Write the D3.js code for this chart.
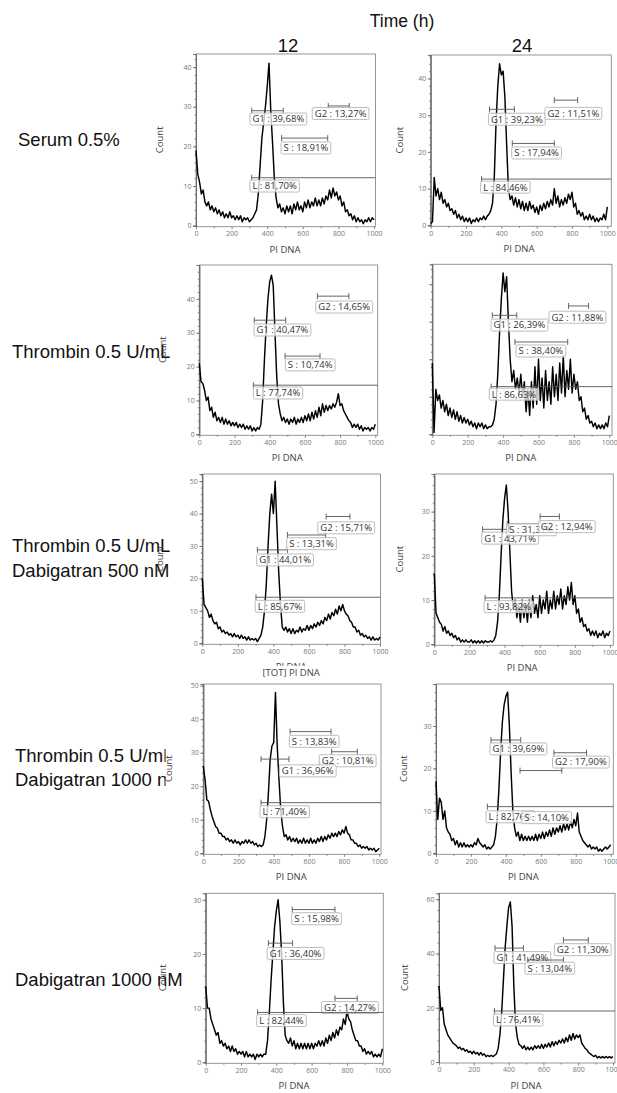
<!DOCTYPE html>
<html>
<head>
<meta charset="utf-8">
<script src="https://cdn.jsdelivr.net/npm/d3@7/dist/d3.min.js"></script>
<style>
  body { margin: 0; background: #fff; }
  .big { font-family: "Liberation Sans", Arial, sans-serif; fill: #111; }
  .small { font-family: "Open Sans", sans-serif; }
  .axis text { font-family: "Open Sans", sans-serif; font-size: 7px; fill: #777; }
  .axis path, .axis line { stroke: #666; stroke-width: 0.8; }
</style>
</head>
<body>
<div id="chart"></div>
<script>
// histogram bins: x = 0, 10, 20 ... 1000 (PI DNA channel)
var binStep = 10;

var timeLabels = ["12", "24"];
var rowLabels = [
  ["Serum 0.5%"],
  ["Thrombin 0.5 U/mL"],
  ["Thrombin 0.5 U/mL", "Dabigatran 500 nM"],
  ["Thrombin 0.5 U/mL", "Dabigatran 1000 nM"],
  ["Dabigatran 1000 nM"]
];
var xTicks = [0, 200, 400, 600, 800, 1000];
var xMinorTicks = [100, 300, 500, 700, 900];

// counts
var countSerum12 = [19,13,11,8,9,6,5,6,4,5,
  3.5,4.5,3,4,2.5,3.5,2,3,2,3.5,
  2,2.5,1.5,2.5,1.5,2.5,1,2,1.5,2,
  1,1.5,2,3,4,8,15,22,26,30,
  35,41,29,21,12,7,4.5,5.5,3.5,4.5,
  3,5,3.5,5,3,5.5,4,6,4,5,
  3.5,6,4.5,6.5,4.5,6,5,7,5,6.5,
  5,7,5.5,7.5,6.5,9,7,9.5,7.5,8.5,
  6.5,7.5,5,6,3.5,4,2.5,3,1.5,2.5,
  1,2,1,1.5,0.5,1.5,1,2,1,2,
  1.5];
var countSerum24 = [0.5,1,13,8,10,7,9,6,7,5,
  6,4,4.5,3,4,2,3,1.5,2.5,1,
  2,1,2,0.5,1.5,1,2,1,2,1.5,
  2.5,1.5,2.5,3,4,6,13,28,38,44,
  41,42,35,22,10,7,8,5.5,7.5,5,
  7,4.5,6.5,4,6,4,6.5,4.5,5.5,3.5,
  5,3,5.5,4,6,4.5,6.5,5,7,5.5,
  10,6,8,5,7,5.5,7.5,6,8.5,7,
  9,5,6,3,4,2.5,3.5,1.5,2.5,1.5,
  3,1.5,2.5,1,2,1,2,1.5,3,1.5,
  5];
var countThr12 = [21,15.5,15,13,10,11,7,8,5,6.5,
  4,5,3.5,5,3,4.5,3,4,2.5,3.5,
  2.5,3.5,2,3,2,3,1.5,2.5,1.5,2.5,
  1,2,1,2,1.5,3,10,22,32,40,
  45,47,44,30,17,9,6,4,5,3.5,
  4.5,3,4.5,3.5,5,3,4.5,3.5,5,3.5,
  5.5,4,6,4,6.5,4.5,7,5,8,5.5,
  9,6.5,8.5,7,8.5,7.5,9,8,9.5,12,
  8.5,9,7,6,5,4,3.5,2,3,2,
  3,1.5,2.5,1,2,1.5,2,1,2,1.5,
  3];
var countThr24 = [19,0.5,12,9,10.5,7,9,6,8,5,
  7,4.5,6.5,4,6,3.5,5,3,4.5,3,
  4,2.5,3.5,2,3,1.5,3,2,3,1.5,
  2.5,1.5,2,2,2.5,4,8,16,27,36,
  43,38,42,30,20,14,17,12,15,11,
  16,10,14,6,12,5,14,7,18,8,
  20,9,15,7,17,9,14,8,18,10,
  16,9,19,11,21,10,17,12,20,11,
  16,12,14,9,10,6,7,4,5,3,
  3.5,2,3,1.5,2.5,1.5,2.5,1.5,3,2,
  5];
var countThrDab500_12 = [20,12,11,10,8,9,7,6,6.5,4.5,
  5,3.5,4,3,3.5,2.5,3,2,3,2,
  2.5,1.5,2.5,1.5,2,1,2,1,1.5,1,
  1.5,0.5,1.5,2.5,5,10,18,30,40,46,
  40,50,36,22,12,5,4,5,3.5,4.5,
  3,4.5,3,4,3.5,5,3.5,4.5,4,5.5,
  4,5.5,4.5,6,5,6.5,5.5,7,6,8,
  7,9,7.5,9.5,8.5,10.5,9,11.5,10,12,
  10,9,8.5,7,6.5,5,5,3.5,4,2.5,
  3,2,2.5,1.5,2,1,2,1,1.5,1,
  2];
var countThrDab500_24 = [16,7,6,5,4.5,3,4,2.5,3,2,
  2.5,1.5,2,1,1.5,0.5,1,0.5,1,0.5,
  0.5,1,0.3,0.8,0.3,0.8,0.3,0.8,0.3,0.8,
  0.5,0.5,0.8,0.5,1,2,5,11,20,28,
  33,36,30,21,12,8,10,6,9,5,
  10,6,9,5,10,6,11,7,9,6,
  11,7,10,8,12,7,10,8,12,8,
  11,9,12.5,8,11,9,13,10,14,9,
  11,7,8,5,6,4,4.5,3,3.5,2,
  3,2,3,1.5,2.5,2,3,1.5,2.5,2,
  3];
var countThrDab1000_12 = [26,22,16,15.5,13,11,9.5,8,7.5,6,
  6,5,5,4,4.5,3.5,4,3,4,3,
  3.5,2.5,3.5,3,4,3,4,3,3.5,2.5,
  3,2,2.5,2,2.5,5,10,18,28,32,
  33,48,32,22,13,8,5,5.5,4,5,
  3.5,4.5,3.5,4.5,3,4,3,4.5,3,4,
  3,4.5,3,4,3,4.5,3.5,5,3.5,5,
  4,5.5,4.5,6,5,6,5,6.5,5.5,7,
  6,8,6,5.5,4,4,3,3,2,2.5,
  1.5,2,1.5,2,1,1.5,1,1.5,0.5,1,
  1.5];
var countThrDab1000_24 = [17,8,13,12,8,10,6,5,4.5,3,
  3.5,2,3,1.5,2.5,1.5,2.5,1.5,2,1.5,
  2,1.5,2.5,2,3.5,2.5,2,1.5,2,1,
  1.5,1,1.5,2,4,8,15,24,31,35,
  37,38,30,19,10,6,4,5,3,4.5,
  3,4,3,4,3,4,3,4.5,3,4.5,
  3.5,5,3.5,5,4,5.5,4,6,4.5,6,
  5,6.5,5,7,5.5,7,5.5,7.5,6,8,
  6.5,9.5,5,4,3,2.5,2,1.5,2,1,
  1.5,1,1.5,0.5,1,0.5,1,1.5,1,1.5,
  2];
var countDab1000_12 = [14,10,10,8,7,6,5,5.5,3.5,4,
  3,3.5,2.5,3,2,3,2,2.5,1.5,2,
  1.5,2,1,2,1,1.5,1,1.5,0.5,1.5,
  1,1.5,1,1.5,1.5,4,9,15,20,25,
  28,30,26,20,11,5,4,3.5,4.5,3,
  4,2.5,3.5,2.5,3.5,2.5,3.5,2.5,3.5,2.5,
  3.5,2.5,3.5,3,4,3,4,3,4.5,3.5,
  5,4,5.5,4.5,6,5,6.5,6,8,7,
  9.5,8,7.5,6,5,4,4,3,3,2,
  2.5,1.5,2,1.5,2,1,1.5,1,1.5,1,
  2.5];
var countDab1000_24 = [28,19,20,14,12,10,9,8,7,6.5,
  6,5,5.5,4.5,5,4,4.5,3.5,4,3,
  4,3,3.5,2.5,3.5,2.5,3,2,2.5,2,
  2.5,2,2.5,3,5,10,18,30,42,50,
  57,59,50,28,14,9,6.5,6,5,6,
  4.5,5.5,4.5,5.5,4.5,6,5,6,5,6.5,
  5,6.5,5.5,7,5.5,7.5,6,7.5,6.5,8,
  7,8.5,7,9,7.5,10,8,10.5,8.5,10,
  9,10,7,6,5,4.5,3.5,3,2.5,2,
  2.5,1.5,2,1.5,2,1.5,2,1.5,2,1.5,
  2];

// gates: [name, percent, from, to (null = open to the right), bar level, label from, label level]
var gatesSerum12 = [
  ["G1", "39,68%", 313, 490, 29.0, 303, 26.9],
  ["G2", "13,27%", 743, 861, 30.2, 653, 28.3],
  ["S", "18,91%", 481, 740, 22.1, 478, 19.6],
  ["L", "81,70%", 313, null, 12.1, 303, 10.0]
];
var gatesSerum24 = [
  ["G1", "39,23%", 333, 474, 31.6, 327, 28.9],
  ["G2", "11,51%", 700, 832, 34.1, 647, 30.5],
  ["S", "17,94%", 462, 700, 22.3, 459, 19.7],
  ["L", "84,46%", 288, null, 12.6, 283, 10.4]
];
var gatesThr12 = [
  ["G1", "40,47%", 312, 491, 33.7, 311, 30.8],
  ["G2", "14,65%", 671, 850, 40.8, 662, 37.6],
  ["S", "10,74%", 487, 686, 23.1, 489, 20.5],
  ["L", "77,74%", 307, null, 14.5, 307, 12.2]
];
var gatesThr24 = [
  ["G1", "26,39%", 339, 477, 31.7, 332, 29.1],
  ["G2", "11,88%", 770, 883, 34.2, 659, 31.2],
  ["S", "38,40%", 467, 765, 24.6, 473, 22.2],
  ["L", "86,63%", 332, null, 12.7, 322, 10.7]
];
var gatesThrDab500_12 = [
  ["G1", "44,01%", 310, 479, 28.8, 306, 25.7],
  ["S", "13,31%", 479, 694, 33.4, 475, 30.7],
  ["G2", "15,71%", 697, 831, 39.1, 650, 35.6],
  ["L", "85,67%", 302, null, 14.2, 298, 11.4]
];
var gatesThrDab500_24 = [
  ["L", "93,82%", 289, null, 10.5, 283, 8.5],
  ["G1", "43,71%", 275, 431, 26.0, 270, 24.0],
  ["S", "31,37%", 415, 602, 27.2, 412, 25.9],
  ["G2", "12,94%", 602, 712, 28.9, 592, 26.6]
];
var gatesThrDab1000_12 = [
  ["S", "13,83%", 493, 726, 36.3, 489, 33.4],
  ["G2", "10,81%", 729, 875, 30.3, 659, 27.6],
  ["G1", "36,96%", 328, 487, 28.1, 432, 24.6],
  ["L", "71,40%", 328, null, 15.1, 322, 12.4]
];
var gatesThrDab1000_24 = [
  ["G1", "39,69%", 315, 485, 26.7, 309, 24.6],
  ["G2", "17,90%", 675, 862, 23.7, 667, 21.5],
  ["L", "82,76%", 294, null, 11.0, 286, 8.6],
  ["S", "14,10%", 481, 720, 19.5, 491, 8.4]
];
var gatesDab1000_12 = [
  ["S", "15,98%", 490, 732, 28.2, 487, 26.5],
  ["G1", "36,40%", 355, 492, 22.0, 348, 20.1],
  ["G2", "14,27%", 732, 858, 11.8, 656, 10.1],
  ["L", "82,44%", 294, null, 9.2, 289, 7.7]
];
var gatesDab1000_24 = [
  ["G2", "11,30%", 715, 858, 45.0, 663, 41.4],
  ["G1", "41,49%", 322, 485, 42.0, 316, 38.5],
  ["S", "13,04%", 510, 715, 37.6, 494, 34.6],
  ["L", "76,41%", 318, null, 18.8, 313, 15.5]
];

// where each exported FlowJo panel sits on the page
var panels = [
  {counts: countSerum12, gates: gatesSerum12, yMax: 43.3, yStep: 10, left: 196, x1000: 374, right: 375.5, top: 54, zero: 225.7, countX: 163},
  {counts: countSerum24, gates: gatesSerum24, yMax: 46.4, yStep: 10, left: 430.7, x1000: 607.3, right: 611.3, top: 55, zero: 225.3, countX: 403},
  {counts: countThr12, gates: gatesThr12, yMax: 50, yStep: 10, left: 199.3, x1000: 375.3, right: 377.7, top: 265, zero: 434.3, countX: 166},
  {counts: countThr24, gates: gatesThr24, yMax: 45.3, yStep: 10, left: 432.3, x1000: 609.3, right: 612, top: 264.3, zero: 434.3, countX: null},
  {counts: countThrDab500_12, gates: gatesThrDab500_12, yMax: 52.2, yStep: 10, left: 202.3, x1000: 380, right: 380.5, top: 474, zero: 643.3, countX: 163},
  {counts: countThrDab500_24, gates: gatesThrDab500_24, yMax: 38.5, yStep: 10, left: 434.3, x1000: 610, right: 613.3, top: 474, zero: 644.3, countX: 403},
  {counts: countThrDab1000_12, gates: gatesThrDab1000_12, yMax: 50.5, yStep: 10, left: 203.3, x1000: 379.3, right: 381, top: 684, zero: 853.3, countX: 172},
  {counts: countThrDab1000_24, gates: gatesThrDab1000_24, yMax: 39.9, yStep: 10, left: 436, x1000: 610.7, right: 613.3, top: 684, zero: 853.3, countX: 407},
  {counts: countDab1000_12, gates: gatesDab1000_12, yMax: 31.2, yStep: 10, left: 205.7, x1000: 382.3, right: 383.3, top: 893.3, zero: 1062.3, countX: 166},
  {counts: countDab1000_24, gates: gatesDab1000_24, yMax: 62.2, yStep: 20, left: 439, x1000: 613, right: 615, top: 893.3, zero: 1062, countX: 408}
];

var rowLabelX = [18, 12, 12, 15, 15];
var rowLabelY = [[146], [358], [552, 577], [762, 786], [986]];
var colLabelX = [288, 522];

var svg = d3.select("#chart").append("svg")
  .attr("width", 617)
  .attr("height", 1093);

svg.append("defs").append("clipPath").attr("id", "cutRow4")
  .append("rect").attr("x", 0).attr("y", 660).attr("width", 165.5).attr("height", 200);

// headings
svg.append("text").attr("class", "big")
  .attr("x", 402).attr("y", 27)
  .attr("text-anchor", "middle")
  .style("font-size", "17.5px")
  .text("Time (h)");

svg.selectAll(".colLabel")
  .data(timeLabels)
  .enter().append("text")
  .attr("class", "big colLabel")
  .attr("x", function(d, i) { return colLabelX[i]; })
  .attr("y", 52)
  .attr("text-anchor", "middle")
  .style("font-size", "18.5px")
  .text(function(d) { return d; });

rowLabels.forEach(function(lines, r) {
  var g = svg.append("g");
  if (r == 3) g.attr("clip-path", "url(#cutRow4)");
  lines.forEach(function(t, k) {
    g.append("text").attr("class", "big")
      .attr("x", rowLabelX[r])
      .attr("y", rowLabelY[r][k])
      .style("font-size", "18.5px")
      .text(t);
  });
});

panels.forEach(function(p, n) {
  var x = d3.scaleLinear().domain([0, 1000]).range([p.left, p.x1000]);
  var y = d3.scaleLinear().domain([0, p.yMax]).range([p.zero, p.top]);
  var g = svg.append("g");

  g.append("rect")
    .attr("x", p.left).attr("y", p.top)
    .attr("width", p.right - p.left).attr("height", p.zero - p.top + 1)
    .attr("fill", "none").attr("stroke", "#8a8a8a").attr("stroke-width", 0.9);

  // y axis, minor then major
  g.append("g").attr("class", "axis")
    .attr("transform", "translate(" + p.left + ",0)")
    .call(d3.axisLeft(y).tickValues(d3.range(0, p.yMax, p.yStep / 5)).tickSize(1.5).tickFormat(""));
  g.append("g").attr("class", "axis")
    .attr("transform", "translate(" + p.left + ",0)")
    .call(d3.axisLeft(y).tickValues(d3.range(0, p.yMax, p.yStep)).tickSize(3).tickPadding(1.5)
      .tickFormat(p.countX == null ? "" : d3.format("d")));

  // x axis
  g.append("g").attr("class", "axis")
    .attr("transform", "translate(0," + (p.zero + 1) + ")")
    .call(d3.axisBottom(x).tickValues(xMinorTicks).tickSize(1.5).tickFormat(""))
    .select(".domain").remove();
  g.append("g").attr("class", "axis")
    .attr("transform", "translate(0," + (p.zero + 1) + ")")
    .call(d3.axisBottom(x).tickValues(xTicks).tickSize(2.5).tickPadding(2).tickFormat(d3.format("d")))
    .select(".domain").remove();

  // histogram trace
  var line = d3.line()
    .x(function(d, i) { return x(i * binStep); })
    .y(function(d) { return y(d); });
  g.append("path")
    .datum(p.counts)
    .attr("d", line)
    .attr("fill", "none")
    .attr("stroke", "#000")
    .attr("stroke-width", 1.45)
    .attr("stroke-linejoin", "round");

  // gates with their labels
  p.gates.forEach(function(gt) {
    var x0 = x(gt[2]), x1 = gt[3] == null ? p.right : x(gt[3]), by = y(gt[4]);
    g.append("line").attr("x1", x0).attr("x2", x1).attr("y1", by).attr("y2", by)
      .attr("stroke", "#555").attr("stroke-width", 0.9);
    g.append("line").attr("x1", x0).attr("x2", x0).attr("y1", by - 3).attr("y2", by + 3)
      .attr("stroke", "#555").attr("stroke-width", 0.9);
    if (gt[3] != null)
      g.append("line").attr("x1", x1).attr("x2", x1).attr("y1", by - 3).attr("y2", by + 3)
        .attr("stroke", "#555").attr("stroke-width", 0.9);

    var lx = x(gt[5]), ly = y(gt[6]);
    var box = g.append("rect");
    var txt = g.append("text").attr("class", "small")
      .attr("x", lx + 2.5).attr("y", ly + 3.4)
      .style("font-size", "9.5px").attr("fill", "#333")
      .text(gt[0] + " : " + gt[1]);
    var w = txt.node().getComputedTextLength();
    box.attr("x", lx).attr("y", ly - 6).attr("width", w + 5).attr("height", 12)
      .attr("rx", 1.5)
      .attr("fill", "#fff").attr("fill-opacity", 0.75)
      .attr("stroke", "#b5b5b5").attr("stroke-width", 0.9);
  });

  // axis titles
  g.append("text").attr("class", "small")
    .attr("x", x(500)).attr("y", p.zero + 27)
    .attr("text-anchor", "middle")
    .style("font-size", "9.5px").attr("fill", "#444")
    .text("PI DNA");
  if (p.countX != null)
    g.append("text").attr("class", "small")
      .attr("transform", "translate(" + p.countX + "," + ((p.top + p.zero) / 2) + ") rotate(-90)")
      .attr("text-anchor", "middle")
      .style("font-size", "9.5px").attr("fill", "#444")
      .text("Count");

  // the lower panel's title strip overlaps this one's x title
  if (n == 4) {
    g.append("rect").attr("x", p.left - 10).attr("y", p.zero + 22.5)
      .attr("width", p.right - p.left + 20).attr("height", 14).attr("fill", "#fff");
    g.append("text").attr("class", "small")
      .attr("x", x(500)).attr("y", p.zero + 32.5)
      .attr("text-anchor", "middle")
      .style("font-size", "9.5px").attr("fill", "#444")
      .text("[TOT] PI DNA");
  }
});
</script>
</body>
</html>
